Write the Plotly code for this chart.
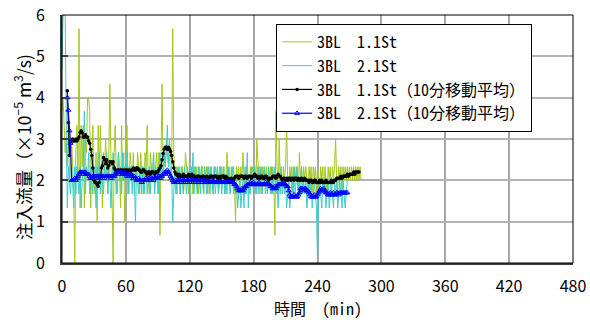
import plotly.graph_objects as go

# ---- data (sampling: every 1 minute) ----
green_start = 0   # 3BL 1.1St raw, minutes from 0
green = [
    3.67, 4.0, 3.33, 2.67, 3.0, 2.33, 3.33, 2.0, 2.67, 3.0,
    2.33, 1.67, 0.0, 2.67, 3.33, 2.0, 5.67, 1.33, 3.33, 2.33,
    3.33, 1.33, 3.0, 2.67, 4.0, 4.0, 3.67, 1.33, 2.33, 3.33,
    2.0, 1.67, 2.67, 1.0, 3.33, 2.0, 3.33, 2.33, 1.33, 2.67,
    2.33, 3.0, 2.0, 1.67, 2.67, 4.33, 2.33, 1.67, 0.0, 2.67,
    3.33, 2.0, 1.67, 2.67, 2.33, 1.33, 3.33, 2.0, 2.67, 1.0,
    2.33, 3.33, 2.0, 1.67, 2.67, 2.33, 2.0, 2.67, 1.67, 2.33,
    2.0, 2.67, 2.33, 1.67, 2.67, 2.0, 2.33, 1.67, 2.67, 2.33,
    3.33, 2.0, 1.67, 2.67, 2.33, 2.0, 2.67, 1.67, 2.33, 2.67,
    1.67, 2.67, 0.67, 2.33, 4.33, 2.0, 2.67, 2.33, 3.0, 2.67,
    2.33, 3.0, 2.67, 2.33, 5.67, 2.67, 2.0, 1.67, 2.33, 2.0,
    2.33, 1.67, 2.0, 2.33, 1.67, 2.0, 2.67, 2.33, 2.0, 1.67,
    2.33, 2.0, 2.33, 1.67, 2.33, 2.0, 2.33, 2.0, 1.67, 2.33,
    2.0, 2.33, 2.33, 1.67, 2.33, 2.0, 2.33, 1.67, 2.33, 2.0,
    2.33, 2.0, 1.67, 2.33, 2.33, 2.0, 2.33, 1.67, 2.33, 2.0,
    2.33, 2.0, 2.33, 1.67, 2.0, 2.67, 2.0, 2.33, 1.67, 2.33,
    2.0, 2.33, 2.0, 1.0, 2.33, 2.0, 2.33, 1.67, 2.33, 2.0,
    2.67, 2.0, 1.67, 2.33, 2.33, 2.0, 1.67, 2.33, 2.0, 2.33,
    2.0, 2.33, 1.67, 3.0, 2.33, 2.0, 2.33, 1.67, 2.33, 2.0,
    2.33, 2.0, 2.33, 1.67, 2.33, 2.0, 2.33, 1.67, 2.33, 2.0,
    0.67, 3.67, 2.33, 1.67, 3.0, 2.0, 2.33, 1.67, 2.33, 2.0,
    2.33, 3.33, 2.0, 1.67, 2.33, 2.0, 2.33, 1.67, 2.33, 2.0,
    2.33, 2.0, 1.67, 2.67, 2.0, 2.33, 1.67, 2.33, 2.0, 2.33,
    2.0, 1.67, 2.33, 2.0, 2.33, 1.67, 2.33, 2.0, 2.33, 1.67,
    2.33, 2.0, 1.67, 2.33, 2.0, 2.33, 1.67, 2.33, 2.0, 1.67,
    2.33, 2.0, 2.33, 1.67, 2.33, 2.0, 2.33, 3.0, 2.0, 1.67,
    2.33, 2.0, 2.33, 1.67, 2.33, 2.0, 2.33, 2.0, 2.33, 2.0,
    2.33, 2.0, 2.33, 2.0, 2.33, 2.0, 2.33, 2.0, 2.33, 2.0,
    2.33, 2.0,
]

cyan_start = 0    # 3BL 2.1St raw
cyan = [
    4.67, 6.0, 6.0, 6.0, 3.33, 1.33, 2.33, 2.0, 1.67, 2.33,
    2.0, 1.33, 2.33, 1.67, 2.33, 2.0, 1.67, 2.33, 1.33, 2.0,
    2.33, 3.67, 1.67, 2.33, 2.0, 2.67, 1.67, 2.33, 2.0, 1.67,
    2.33, 2.0, 1.33, 2.33, 2.0, 2.67, 1.67, 2.33, 2.0, 1.67,
    2.33, 2.0, 2.67, 1.67, 2.33, 2.0, 1.33, 2.33, 2.67, 2.0,
    2.33, 1.67, 2.33, 2.67, 2.0, 2.33, 1.67, 2.67, 2.0, 2.33,
    2.0, 2.67, 1.67, 2.33, 2.0, 2.33, 1.67, 2.33, 2.0, 1.0,
    2.33, 2.0, 1.67, 2.33, 2.0, 1.67, 2.33, 1.67, 2.0, 2.33,
    1.67, 2.0, 2.33, 1.67, 2.33, 2.0, 2.67, 1.67, 2.33, 2.0,
    2.33, 1.67, 2.67, 2.0, 2.33, 2.0, 2.67, 2.33, 2.67, 3.33,
    2.33, 2.67, 2.0, 2.33, 1.0, 1.67, 2.33, 2.0, 1.67, 2.33,
    2.0, 1.67, 2.33, 2.0, 1.67, 2.33, 2.0, 1.67, 2.33, 2.0,
    1.67, 2.33, 2.0, 2.67, 1.67, 2.33, 2.0, 1.67, 2.33, 2.0,
    1.67, 2.33, 2.0, 1.67, 2.33, 2.0, 1.67, 2.33, 2.0, 1.67,
    2.33, 2.0, 1.67, 2.33, 1.67, 2.0, 2.33, 1.67, 2.0, 2.33,
    1.67, 2.0, 2.33, 1.67, 2.0, 1.67, 2.33, 2.0, 1.67, 2.0,
    2.33, 1.67, 2.0, 1.67, 2.0, 1.33, 1.67, 2.0, 1.33, 1.67,
    2.0, 1.33, 2.33, 1.67, 2.67, 1.33, 2.0, 1.67, 2.33, 2.0,
    1.67, 2.33, 2.0, 1.67, 2.33, 1.67, 2.0, 2.33, 1.67, 2.0,
    2.33, 1.67, 2.0, 1.67, 2.33, 2.0, 1.67, 2.33, 1.67, 2.0,
    2.33, 1.67, 2.0, 1.33, 2.0, 1.67, 2.33, 1.67, 2.0, 1.67,
    2.0, 1.33, 1.67, 2.0, 1.33, 1.67, 2.0, 1.67, 2.33, 1.67,
    2.0, 2.33, 1.67, 2.0, 1.67, 2.33, 1.67, 2.0, 1.67, 2.0,
    1.33, 1.67, 2.0, 1.67, 2.0, 1.33, 1.67, 2.0, 1.67, 1.33,
    0.0, 1.67, 2.0, 1.67, 1.33, 2.0, 1.67, 2.0, 1.33, 1.67,
    2.0, 1.33, 1.67, 2.0, 1.67, 1.33, 2.0, 1.67, 2.0, 1.33,
    1.67, 2.0, 1.67, 1.33, 2.0, 1.67, 1.33, 1.67, 2.0,
]

black_start = 5   # 3BL 1.1St 10-min moving average
black = [
    4.17, 3.4, 2.6, 2.95, 2.95, 3.0, 2.95, 2.95, 3.0, 2.95,
    3.0, 3.05, 3.15, 3.2, 3.15, 3.05, 3.05, 3.1, 3.05, 3.05,
    2.95, 2.9, 2.75, 2.6, 2.3, 2.0, 1.95, 1.95, 1.9, 1.85,
    1.95, 2.1, 2.3, 2.35, 2.55, 2.5, 2.4, 2.5, 2.3, 2.35,
    2.45, 2.45, 2.4, 2.45, 2.3, 2.25, 2.2, 2.25, 2.25, 2.2,
    2.25, 2.25, 2.2, 2.25, 2.2, 2.25, 2.25, 2.2, 2.25, 2.2,
    2.25, 2.25, 2.3, 2.25, 2.25, 2.3, 2.3, 2.25, 2.25, 2.2,
    2.2, 2.25, 2.25, 2.2, 2.2, 2.15, 2.2, 2.2, 2.15, 2.2,
    2.2, 2.2, 2.15, 2.2, 2.2, 2.2, 2.25, 2.3, 2.35, 2.5,
    2.65, 2.75, 2.8, 2.8, 2.75, 2.8, 2.75, 2.7, 2.6, 2.45,
    2.3, 2.2, 2.15, 2.15, 2.1, 2.15, 2.1, 2.1, 2.1, 2.15,
    2.1, 2.1, 2.1, 2.1, 2.15, 2.1, 2.1, 2.15, 2.1, 2.1,
    2.1, 2.05, 2.1, 2.1, 2.1, 2.05, 2.05, 2.1, 2.1, 2.05,
    2.05, 2.1, 2.05, 2.05, 2.1, 2.1, 2.1, 2.05, 2.1, 2.1,
    2.1, 2.05, 2.05, 2.1, 2.05, 2.1, 2.1, 2.1, 2.05, 2.1,
    2.05, 2.05, 2.0, 2.0, 2.05, 2.0, 2.0, 2.05, 2.1, 2.1,
    2.1, 2.05, 2.1, 2.1, 2.1, 2.1, 2.05, 2.1, 2.1, 2.05,
    2.1, 2.1, 2.1, 2.05, 2.1, 2.1, 2.15, 2.1, 2.1, 2.05,
    2.1, 2.05, 2.1, 2.1, 2.05, 2.05, 2.1, 2.1, 2.05, 2.0,
    2.05, 2.05, 2.05, 2.1, 2.1, 2.1, 2.05, 2.1, 2.15, 2.1,
    2.1, 2.05, 2.0, 2.05, 2.05, 2.0, 2.05, 2.0, 2.05, 2.05,
    2.0, 2.05, 2.05, 2.0, 2.05, 2.05, 2.0, 2.05, 2.0, 2.0,
    2.05, 2.0, 2.0, 2.05, 2.0, 2.0, 2.0, 1.95, 2.0, 2.0,
    1.95, 1.95, 2.0, 2.0, 1.95, 1.95, 1.95, 2.0, 1.95, 2.0,
    1.95, 1.95, 1.95, 2.0, 1.95, 1.95, 1.95, 1.95, 2.0, 1.95,
    1.95, 2.0, 2.0, 2.05, 2.05, 2.05, 2.05, 2.1, 2.05, 2.1,
    2.1, 2.1, 2.1, 2.15, 2.1, 2.15, 2.15, 2.15, 2.15, 2.2,
    2.15, 2.2, 2.2, 2.2, 2.2,
]

blue_start = 5    # 3BL 2.1St 10-min moving average
blue = [
    4.0, 3.7, 3.2, 2.9, 2.0, 2.0, 2.0, 2.05, 2.0, 2.05,
    2.1, 2.15, 2.2, 2.2, 2.2, 2.15, 2.2, 2.2, 2.15, 2.15,
    2.15, 2.1, 2.05, 2.05, 2.1, 2.1, 2.05, 2.1, 2.1, 2.1,
    2.1, 2.05, 2.1, 2.1, 2.1, 2.05, 2.1, 2.1, 2.1, 2.1,
    2.1, 2.05, 2.1, 2.1, 2.1, 2.15, 2.2, 2.2, 2.15, 2.2,
    2.2, 2.2, 2.15, 2.15, 2.2, 2.15, 2.1, 2.15, 2.1, 2.15,
    2.15, 2.1, 2.05, 2.1, 2.05, 2.0, 2.0, 2.05, 2.0, 2.0,
    1.95, 2.0, 2.0, 2.0, 2.05, 2.0, 2.05, 2.05, 2.0, 2.05,
    2.05, 2.0, 2.05, 2.05, 2.1, 2.05, 2.1, 2.05, 2.1, 2.1,
    2.15, 2.15, 2.2, 2.2, 2.25, 2.2, 2.15, 2.1, 2.05, 2.0,
    1.95, 1.95, 2.0, 1.95, 2.0, 2.0, 2.0, 1.95, 2.0, 2.0,
    2.0, 1.95, 2.0, 2.0, 2.0, 1.95, 2.0, 2.0, 2.0, 2.0,
    1.95, 2.0, 2.0, 1.95, 2.0, 2.0, 2.0, 1.95, 2.0, 2.0,
    1.95, 1.95, 2.0, 1.95, 1.95, 1.95, 2.0, 1.95, 1.95, 1.95,
    1.95, 1.95, 1.95, 1.95, 1.95, 1.95, 1.95, 1.95, 1.95, 1.95,
    1.95, 1.95, 1.95, 1.95, 1.95, 1.95, 1.95, 1.9, 1.9, 1.85,
    1.8, 1.75, 1.75, 1.75, 1.8, 1.75, 1.8, 1.85, 1.85, 1.9,
    1.9, 1.9, 1.95, 1.9, 1.9, 1.95, 1.9, 1.9, 1.9, 1.9,
    1.95, 1.9, 1.9, 1.9, 1.9, 1.9, 1.95, 1.9, 1.9, 1.9,
    1.9, 1.85, 1.85, 1.8, 1.8, 1.85, 1.8, 1.85, 1.9, 1.9,
    1.9, 1.9, 1.9, 1.95, 1.9, 1.9, 1.85, 1.85, 1.75, 1.65,
    1.6, 1.6, 1.6, 1.65, 1.6, 1.6, 1.6, 1.65, 1.7, 1.8,
    1.8, 1.8, 1.75, 1.8, 1.8, 1.75, 1.75, 1.7, 1.65, 1.6,
    1.6, 1.6, 1.65, 1.6, 1.6, 1.65, 1.7, 1.75, 1.8, 1.75,
    1.75, 1.8, 1.75, 1.7, 1.7, 1.65, 1.65, 1.7, 1.65, 1.65,
    1.7, 1.65, 1.65, 1.7, 1.7, 1.65, 1.7, 1.7, 1.7, 1.7,
    1.7, 1.7, 1.7, 1.7,
]

x_ticks = [0, 60, 120, 180, 240, 300, 360, 420, 480]
y_ticks = [0, 1, 2, 3, 4, 5, 6]

names = ["3BL\u30001.1St", "3BL\u30002.1St",
         "3BL\u30001.1St（10分移動平均）", "3BL\u30002.1St（10分移動平均）"]
x_title = "時間　(min)"
y_title = "注入流量（×10<sup>−5</sup> m<sup>3</sup>/s)"


def minutes(start, vals):
    return [start + i for i in range(len(vals))]


fig = go.Figure()
fig.add_trace(go.Scatter(x=minutes(green_start, green), y=green, mode="lines",
                         name=names[0], line=dict(color="#a3c81c", width=1)))
fig.add_trace(go.Scatter(x=minutes(cyan_start, cyan), y=cyan, mode="lines",
                         name=names[1], line=dict(color="#3ccccc", width=1)))
fig.add_trace(go.Scatter(x=minutes(black_start, black), y=black, mode="lines+markers",
                         name=names[2], line=dict(color="#000000", width=1.2),
                         marker=dict(symbol="circle", size=3.5, color="#000000")))
fig.add_trace(go.Scatter(x=minutes(blue_start, blue), y=blue, mode="lines+markers",
                         name=names[3], line=dict(color="#0000ff", width=1.2),
                         marker=dict(symbol="triangle-up-open", size=4.5, color="#0000ff",
                                     line=dict(width=1))))

font_main = "Noto Sans CJK JP, Liberation Sans, sans-serif"
font_mono = "Noto Sans Mono CJK JP, Liberation Mono, Noto Sans CJK JP, monospace"

fig.update_layout(
    width=590, height=320,
    margin=dict(l=62, r=17, t=15, b=57),
    paper_bgcolor="white", plot_bgcolor="white",
    font=dict(family=font_main, size=14, color="#000000"),
    showlegend=True,
    legend=dict(x=0.419, y=0.964, xanchor="left", yanchor="top",
                bgcolor="white", bordercolor="#000000", borderwidth=1,
                font=dict(family=font_mono, size=16),
                tracegroupgap=0, itemwidth=30),
    annotations=[
        dict(text=x_title, xref="paper", yref="paper", x=0.5, y=-0.18,
             xanchor="center", yanchor="middle", showarrow=False,
             font=dict(family=font_mono, size=16)),
        dict(text=y_title, xref="paper", yref="paper", x=-0.078, y=0.468,
             xanchor="center", yanchor="middle", showarrow=False, textangle=-90,
             font=dict(family=font_main, size=17.5)),
    ],
)
fig.update_xaxes(range=[0, 480], tickvals=x_ticks, ticktext=[str(v) for v in x_ticks],
                 showgrid=True, gridcolor="#a6a6a6", gridwidth=1.5,
                 showline=True, linecolor="#404040", linewidth=2,
                 ticks="", zeroline=False, ticklabelstandoff=8, automargin=False,
                 tickfont=dict(size=16))
fig.update_yaxes(range=[0, 6], tickvals=y_ticks,
                 showgrid=True, gridcolor="#b4b4b4", gridwidth=1.5,
                 showline=True, linecolor="#404040", linewidth=2,
                 ticks="inside", ticklen=6, tickcolor="#404040", tickwidth=1.5,
                 zeroline=False, ticklabelstandoff=12, automargin=False,
                 tickfont=dict(size=16))
fig.add_shape(type="rect", xref="x domain", yref="y domain", x0=0, x1=1, y0=0, y1=1,
              line=dict(color="#000000", width=1), fillcolor="rgba(0,0,0,0)", layer="above")

fig.write_html("out.html")
